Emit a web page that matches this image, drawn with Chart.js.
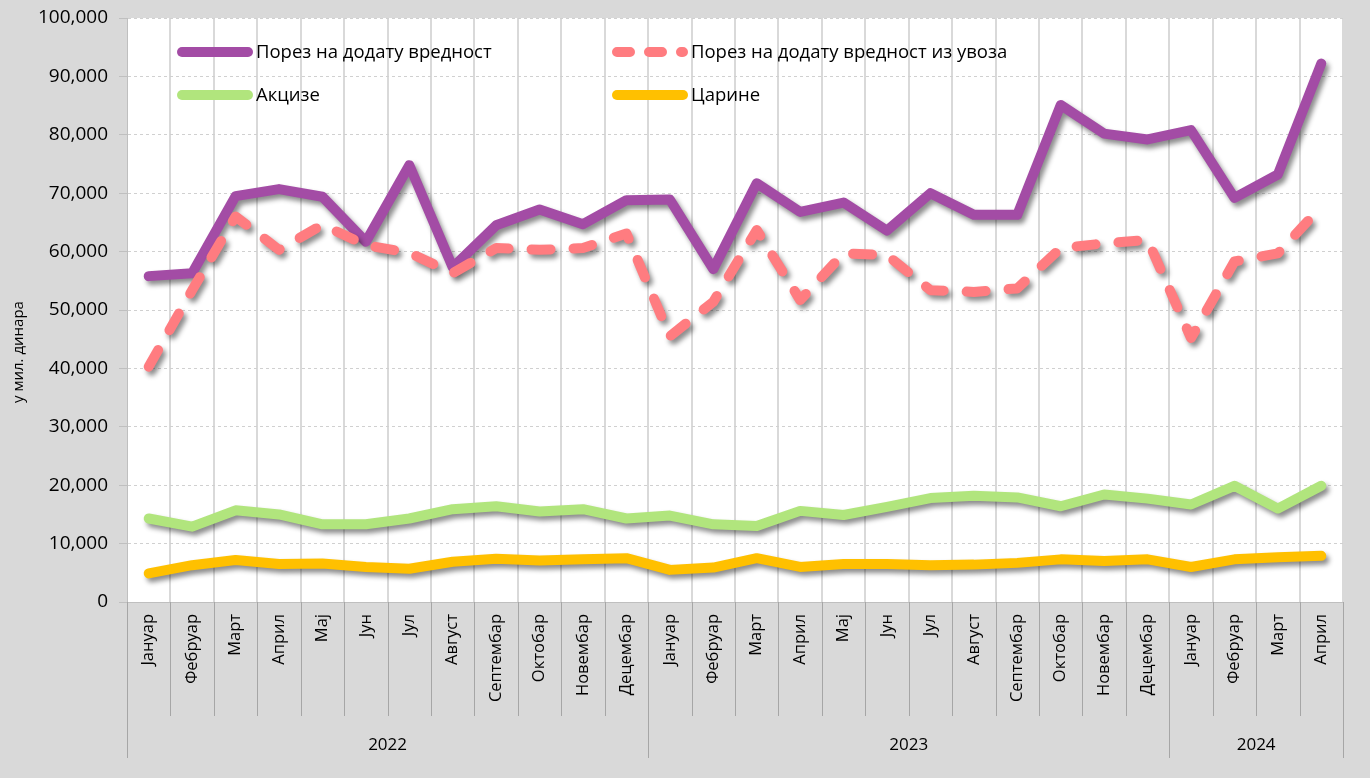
<!DOCTYPE html>
<html>
<head>
<meta charset="utf-8">
<script src="https://cdn.jsdelivr.net/npm/chart.js@4.4.1/dist/chart.umd.min.js"></script>
<style>
  html, body { margin: 0; padding: 0; background: #d9d9d9; }
  canvas { display: block; }
</style>
</head>
<body>
<canvas id="chart" width="1370" height="778"></canvas>
<script>
// month labels per year
const months2022 = ['Јануар', 'Фебруар', 'Март', 'Април', 'Мај', 'Јун', 'Јул', 'Август', 'Септембар', 'Октобар', 'Новембар', 'Децембар'];
const months2023 = ['Јануар', 'Фебруар', 'Март', 'Април', 'Мај', 'Јун', 'Јул', 'Август', 'Септембар', 'Октобар', 'Новембар', 'Децембар'];
const months2024 = ['Јануар', 'Фебруар', 'Март', 'Април'];
const years = ['2022', '2023', '2024'];
const monthsPerYear = [12, 12, 4];

const yTicks = [0, 10000, 20000, 30000, 40000, 50000, 60000, 70000, 80000, 90000, 100000];

// у мил. динара
const vat = [55800, 56300, 69500, 70700, 69400, 61700, 74800, 57300, 64500, 67200, 64700, 68800,
             68900, 57000, 71700, 66800, 68400, 63600, 70000, 66300, 66300, 85100, 80200, 79200,
             80800, 69200, 73200, 92200];
const vatImport = [40300, 53400, 66000, 60300, 64600, 61100, 59800, 56300, 60600, 60300, 60600, 63100,
                   45500, 51400, 63700, 51700, 59700, 59400, 53400, 53100, 53700, 60600, 61400, 62000,
                   45200, 58300, 59700, 67700];
const excise = [14300, 12900, 15700, 15000, 13300, 13300, 14300, 15900, 16400, 15500, 15900, 14300,
                14800, 13300, 13000, 15600, 14900, 16300, 17800, 18200, 17900, 16400, 18400, 17700,
                16700, 19900, 16000, 19900];
const customs = [4900, 6300, 7200, 6500, 6600, 6000, 5700, 6900, 7400, 7100, 7300, 7500,
                 5500, 5900, 7500, 6000, 6500, 6500, 6300, 6400, 6700, 7300, 7000, 7300,
                 6000, 7300, 7650, 7900];

const labels = months2022.concat(months2023, months2024);
const FONT = 'Open Sans';

// white plot area, shadows, x-axis groups, legend, y title
const decor = {
  id: 'decor',
  beforeDraw(chart) {
    const { ctx, chartArea: a } = chart;
    ctx.save();
    ctx.fillStyle = '#ffffff';
    ctx.fillRect(a.left, a.top, a.right - a.left, a.bottom - a.top);
    ctx.restore();
  },
  beforeDatasetDraw(chart) {
    const ctx = chart.ctx;
    ctx.save();
    ctx.shadowColor = 'rgba(0,0,0,0.45)';
    ctx.shadowBlur = 5;
    ctx.shadowOffsetX = 3;
    ctx.shadowOffsetY = 4;
  },
  afterDatasetDraw(chart) {
    chart.ctx.restore();
  },
  afterDraw(chart) {
    const { ctx, chartArea: a } = chart;
    const x = chart.scales.x;
    const step = x.getPixelForValue(1) - x.getPixelForValue(0);
    ctx.save();
    ctx.strokeStyle = '#a6a6a6';
    ctx.lineWidth = 1;
    // month separators
    let yearEdges = [0];
    let acc = 0;
    monthsPerYear.forEach(n => { acc += n; yearEdges.push(acc); });
    for (let i = 0; i <= labels.length; i++) {
      const px = Math.round(x.getPixelForValue(i) - step / 2) + 0.5;
      const long = yearEdges.includes(i);
      ctx.beginPath();
      ctx.moveTo(px, a.bottom);
      ctx.lineTo(px, long ? 758 : 716);
      ctx.stroke();
    }
    // year labels
    ctx.fillStyle = '#000';
    ctx.font = '17px "' + FONT + '"';
    ctx.textAlign = 'center';
    ctx.textBaseline = 'middle';
    years.forEach((yr, k) => {
      const from = x.getPixelForValue(yearEdges[k]) - step / 2;
      const to = x.getPixelForValue(yearEdges[k + 1] - 1) + step / 2;
      ctx.fillText(yr, (from + to) / 2, 745);
    });
    // y axis title
    ctx.save();
    ctx.translate(19, 352);
    ctx.rotate(-Math.PI / 2);
    ctx.font = '15px "' + FONT + '"';
    ctx.fillText('у мил. динара', 0, 0);
    ctx.restore();
    // legend, 2 columns
    const cols = [182, 617];
    const rows = [52, 95];
    chart.data.datasets.forEach((ds, i) => {
      const lx = cols[i % 2];
      const ly = rows[Math.floor(i / 2)];
      ctx.beginPath();
      ctx.strokeStyle = ds.borderColor;
      ctx.lineWidth = 10;
      ctx.lineCap = 'round';
      ctx.setLineDash(ds.borderDash ? [13, 19] : []);
      ctx.moveTo(lx, ly);
      ctx.lineTo(lx + 66, ly);
      ctx.stroke();
      ctx.setLineDash([]);
      ctx.fillStyle = '#000';
      ctx.font = '18.5px "' + FONT + '"';
      ctx.textAlign = 'left';
      ctx.fillText(ds.label, lx + 74, ly + 1);
    });
    ctx.restore();
  }
};

function line(label, data, color, order, dash) {
  return {
    label: label,
    data: data,
    borderColor: color,
    backgroundColor: color,
    borderWidth: 10,
    borderCapStyle: 'round',
    borderJoinStyle: 'round',
    borderDash: dash,
    pointRadius: 0,
    tension: 0,
    order: order,
  };
}

new Chart(document.getElementById('chart'), {
  type: 'line',
  data: {
    labels: labels,
    datasets: [
      line('Порез на додату вредност', vat, '#a34ca5', 4, undefined),
      line('Порез на додату вредност из увоза', vatImport, '#ff7c80', 3, [19, 23]),
      line('Акцизе', excise, '#b1e57d', 2, undefined),
      line('Царине', customs, '#ffc000', 1, undefined),
    ],
  },
  options: {
    responsive: false,
    animation: false,
    layout: { padding: { top: 18, right: 27, bottom: 0, left: 0 } },
    plugins: { legend: { display: false }, tooltip: { enabled: false } },
    scales: {
      x: {
        offset: true,
        afterFit: s => { s.height = 176; },
        grid: { offset: true, color: '#d9d9d9', lineWidth: 2, drawTicks: false },
        border: { color: '#bfbfbf', width: 1 },
        ticks: {
          autoSkip: false, maxRotation: 90, minRotation: 90, padding: 12,
          color: '#000', font: { family: FONT, size: 16.5 },
        },
      },
      y: {
        min: 0,
        max: 100000,
        afterFit: s => { s.width = 127; s.paddingTop = 0; s.paddingBottom = 0; },
        afterBuildTicks: s => { s.ticks = yTicks.map(v => ({ value: v })); },
        grid: { color: '#d0d0d0', lineWidth: 1, tickLength: 8, tickColor: '#bfbfbf', tickBorderDash: [] },
        border: { color: '#bfbfbf', width: 1, dash: [3, 3] },
        ticks: {
          padding: 11, color: '#000', font: { family: FONT, size: 19 },
          callback: v => v.toLocaleString('en-US'),
        },
      },
    },
  },
  plugins: [decor],
});
</script>
</body>
</html>
